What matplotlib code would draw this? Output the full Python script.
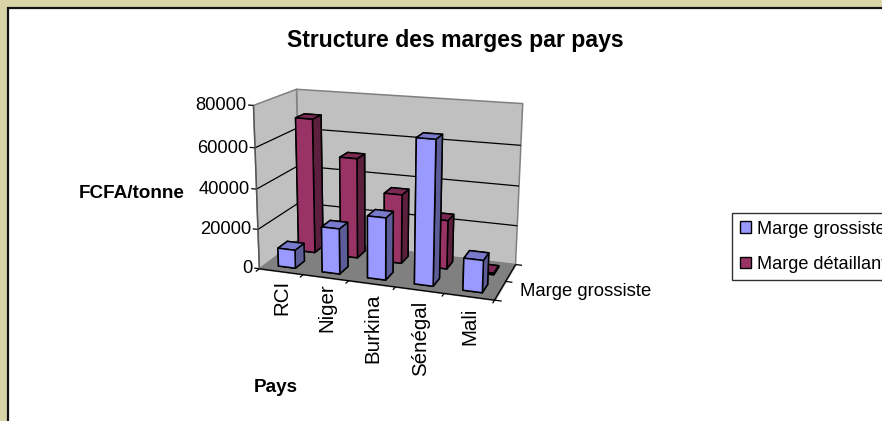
import matplotlib
matplotlib.use("Agg")
import matplotlib.pyplot as plt
import numpy as np
from matplotlib.patches import Patch, Rectangle
from mpl_toolkits.mplot3d.art3d import Line3DCollection, Poly3DCollection

plt.rcParams["font.family"] = ["Liberation Sans", "DejaVu Sans"]

pays = ["RCI", "Niger", "Burkina", "Sénégal", "Mali"]
marge_grossiste = [9200, 22600, 30500, 69300, 15500]
marge_detaillant = [69000, 51000, 35000, 24500, 800]
z_ticks = [0, 20000, 40000, 60000, 80000]

W, H = 882, 421
X_MAX, Y_MAX, Z_MAX = 5, 2, 80000

# box corners (cat, serie, value) and where they sit in the picture
box_corners = [
    (0, 0, 0), (X_MAX, 0, 0), (0, Y_MAX, 0), (X_MAX, Y_MAX, 0),
    (0, 0, Z_MAX), (0, Y_MAX, Z_MAX), (X_MAX, Y_MAX, Z_MAX),
]
pixel_corners = [
    (260, 267.7), (494, 301.7), (299.3, 240), (516, 262.7),
    (253.3, 105), (296.7, 89.3), (522.7, 104),
]
# gap in pixels between the floor edge and each rotated label
label_gaps = [8, 6, 10, 11, 11]


def fit_camera(corners, pixels):
    # plain DLT, gives the 3x4 matrix from data units to pixels
    rows = []
    for (x, y, z), (u, v) in zip(corners, pixels):
        p = [x / X_MAX, y / Y_MAX, z / Z_MAX, 1]
        rows.append(p + [0, 0, 0, 0] + [-u * c for c in p])
        rows.append([0, 0, 0, 0] + p + [-v * c for c in p])
    cam = np.linalg.svd(np.array(rows))[2][-1].reshape(3, 4)
    return cam @ np.diag([1 / X_MAX, 1 / Y_MAX, 1 / Z_MAX, 1])


cam = fit_camera(box_corners, pixel_corners)
if cam[2, 3] < 0:
    cam = -cam
# third row only orders the faces: far, left and low faces get painted first
depth = np.array([-0.3 / X_MAX, 1 / Y_MAX, -0.3 / Z_MAX, 0]) * cam[2, 3]
proj = np.vstack([cam[0], cam[1], depth, cam[2]])


def to_px(x, y, z):
    u, v, w = cam @ np.array([x, y, z, 1])
    return u / w, v / w


fig = plt.figure(figsize=(W / 100, H / 100), dpi=100, facecolor="#d9d5a8")

bg = fig.add_axes([0, 0, 1, 1], zorder=0)
bg.set_xlim(0, W)
bg.set_ylim(H, 0)
bg.axis("off")
bg.add_patch(Rectangle((8, 8), W, H, facecolor="white", edgecolor="#111111", linewidth=1.6))
bg.text(455, 40.5, "Structure des marges par pays", fontsize=16.6, fontweight="bold",
        ha="center", va="center")
bg.text(131.5, 194, "FCFA/tonne", fontsize=13.6, fontweight="bold", ha="center", va="center")
bg.text(276, 387, "Pays", fontsize=13.6, fontweight="bold", ha="center", va="center")

for val in z_ticks:
    u, v = to_px(-0.16, 0, val)
    bg.text(u, v + 1, str(val), fontsize=13.2, ha="right", va="center")
for i, nom in enumerate(pays):
    u, v = to_px(i + 0.5, 0, 0)
    bg.text(u + 1, v + label_gaps[i], nom, fontsize=14.8, rotation=90, ha="center", va="top")
u, v = to_px(X_MAX, 0.5, 0)
bg.text(u + 20, v + 1, "Marge grossiste", fontsize=13.3, ha="left", va="center")

ax = fig.add_axes([0, 0, 1, 1], projection="3d", zorder=1)
ax.patch.set_alpha(0)
ax.set_axis_off()
ax.get_proj = lambda: proj
ax.apply_aspect = lambda position=None: None
ax.computed_zorder = False

# walls and floor
back_wall = [(0, Y_MAX, 0), (X_MAX, Y_MAX, 0), (X_MAX, Y_MAX, Z_MAX), (0, Y_MAX, Z_MAX)]
side_wall = [(0, 0, 0), (0, Y_MAX, 0), (0, Y_MAX, Z_MAX), (0, 0, Z_MAX)]
floor = [(0, 0, 0), (X_MAX, 0, 0), (X_MAX, Y_MAX, 0), (0, Y_MAX, 0)]
ax.add_collection3d(Poly3DCollection([back_wall, side_wall], facecolors="#c0c0c0",
                                     edgecolors="#808080", linewidths=1.1, zorder=1))
ax.add_collection3d(Poly3DCollection([floor], facecolors="#808080", edgecolors="#808080",
                                     linewidths=0.8, zorder=2))

# gridlines, axis lines and ticks
segs = []
for val in z_ticks[1:-1]:
    segs.append([(0, 0, val), (0, Y_MAX, val), (X_MAX, Y_MAX, val)])
segs.append([(0, 0, 0), (X_MAX, 0, 0), (X_MAX, Y_MAX, 0)])
for val in z_ticks:
    segs.append([(-0.12, 0, val), (0, 0, val)])
for i in range(len(pays) + 1):
    segs.append([(i, -0.16, 0), (i, 0, 0)])
for j in range(Y_MAX + 1):
    segs.append([(X_MAX, j, 0), (X_MAX + 0.14, j, 0)])
ax.add_collection3d(Line3DCollection(segs, colors="black", linewidths=0.9, zorder=3), autolim=False)
ax.add_collection3d(Line3DCollection([[(0, 0, 0), (0, 0, Z_MAX)]], colors="#555555",
                                     linewidths=1, zorder=3), autolim=False)

# bars, back row first and left to right; face order is -z +z -y +y -x +x
BAR_W = 0.39
BAR_D = 0.45
faces_bleu = ["#9999ff", "#7a7acc", "#9999ff", "#9999ff", "#5c5c99", "#5c5c99"]
faces_rouge = ["#993366", "#7a2952", "#993366", "#993366", "#5c1f3d", "#5c1f3d"]
for j, (serie, faces) in enumerate([(marge_grossiste, faces_bleu), (marge_detaillant, faces_rouge)]):
    for i, val in enumerate(serie):
        ax.bar3d(i + 0.5 - BAR_W / 2, j + 0.5 - BAR_D / 2, 0, BAR_W, BAR_D, val, color=faces,
                 shade=False, edgecolor="black", linewidth=1.1, zorder=10 + (1 - j) * 20 + i)

handles = [Patch(facecolor="#9999ff", edgecolor="black"), Patch(facecolor="#993366", edgecolor="black")]
leg = fig.legend(handles, ["Marge grossiste", "Marge détaillant"], loc="upper left",
                 bbox_to_anchor=(732 / W, 1 - 213 / H), fontsize=13.1, frameon=True, fancybox=False,
                 edgecolor="#333333", framealpha=1, borderaxespad=0, handlelength=0.6,
                 handleheight=0.6, handletextpad=0.35, labelspacing=1.0, borderpad=0.42)

# the projection already gives pixels, so the 2D view is just the picture
ax.viewLim.intervalx = (0, W)
ax.viewLim.intervaly = (H, 0)

fig.savefig("out.png", dpi=100)
